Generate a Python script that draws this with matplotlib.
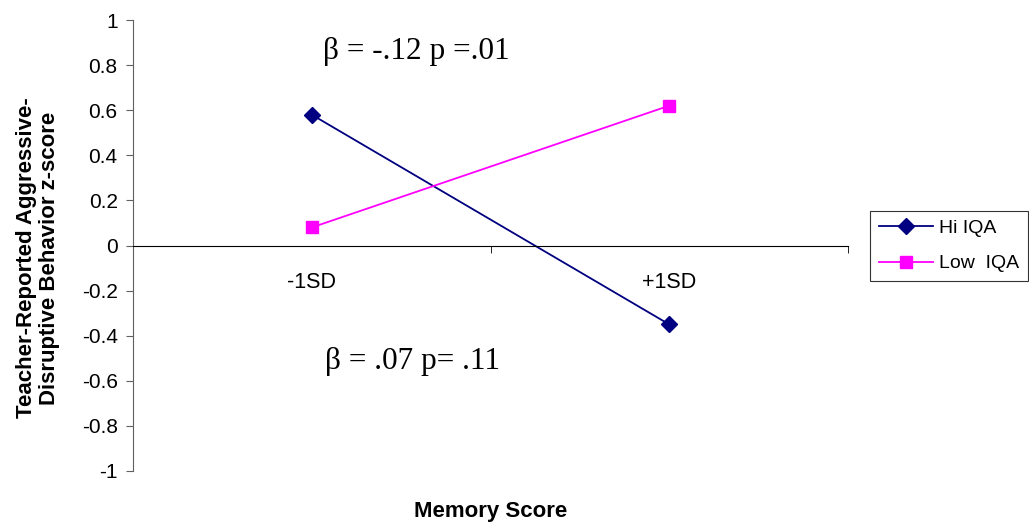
import numpy as np
import matplotlib
matplotlib.use("Agg")
import matplotlib.pyplot as plt
from matplotlib.ticker import FixedLocator, FuncFormatter

categories = ["-1SD", "+1SD"]
hi_iqa = [0.58, -0.35]
low_iqa = [0.08, 0.62]
y_ticks = [1, 0.8, 0.6, 0.4, 0.2, 0, -0.2, -0.4, -0.6, -0.8, -1]

plt.rcParams["font.family"] = ["Liberation Sans", "DejaVu Sans"]
plt.rcParams["axes.unicode_minus"] = False

fig = plt.figure(figsize=(10.29, 5.29), dpi=100)
ax = fig.add_axes([133 / 1029, 1 - 471 / 529, (848 - 133) / 1029, (471 - 20) / 529])

x = np.arange(len(categories)) + 0.5
ax.plot(x, hi_iqa, color="#000080", lw=1.3, marker="D", ms=8, label="Hi IQA")
ax.plot(x, low_iqa, color="#FF00FF", lw=1.3, marker="s", ms=8.5, label="Low  IQA")

ax.set_xlim(0, len(categories))
ax.set_ylim(-1, 1)

# excel-like axes: y axis on left, category axis crossing at zero
for s in ["top", "right"]:
    ax.spines[s].set_visible(False)
ax.spines["bottom"].set_position(("data", 0))
ax.spines["left"].set_color("#606060")
ax.spines["bottom"].set_color("black")

ax.set_yticks(y_ticks)
ax.yaxis.set_major_formatter(FuncFormatter(lambda v, p: f"{v:g}"))
ax.tick_params(axis="y", labelsize=15, length=5, color="#606060", pad=6)

ax.xaxis.set_major_locator(FixedLocator(x))
ax.set_xticklabels(categories)
ax.xaxis.set_minor_locator(FixedLocator(np.arange(len(categories) + 1)))
ax.tick_params(axis="x", which="major", length=0, labelsize=15.5, pad=19)
ax.tick_params(axis="x", which="minor", length=5, color="black")

fig.text(38 / 1029, 1 - 258 / 529, "Teacher-Reported Aggressive-\nDisruptive Behavior z-score",
         fontsize=16, fontweight="bold", rotation=90, ha="center", va="center",
         multialignment="center", linespacing=1.15)
fig.text(491 / 1029, 1 - 511 / 529, "Memory Score", fontsize=16,
         fontweight="bold", ha="center", va="center")

ax.text(323 / 1029, 1 - 51 / 529, "β = -.12 p =.01", transform=fig.transFigure,
        family="Liberation Serif", fontsize=22.5, va="center", ha="left")
ax.text(325 / 1029, 1 - 362 / 529, "β = .07 p= .11", transform=fig.transFigure,
        family="Liberation Serif", fontsize=22.5, va="center", ha="left")

leg = fig.legend(loc="center left", bbox_to_anchor=(870 / 1029, 1 - 246 / 529),
                 borderaxespad=0, fontsize=14, frameon=True, fancybox=False,
                 edgecolor="black", handlelength=2.8, borderpad=0.45,
                 labelspacing=0.9, handletextpad=0.3)
leg.get_frame().set_linewidth(0.8)

fig.savefig("out.png", dpi=100)
